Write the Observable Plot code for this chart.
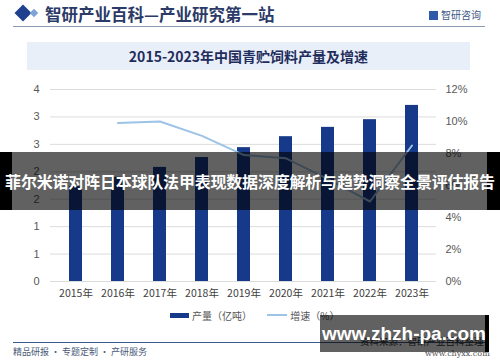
<!DOCTYPE html>
<html><head><meta charset="utf-8">
<script src="https://cdn.jsdelivr.net/npm/d3@7"></script>
<script src="https://cdn.jsdelivr.net/npm/@observablehq/plot@0.6"></script>
<style>
body{margin:0;background:#fff;}
#page{position:relative;width:500px;height:362px;overflow:hidden;background:#fff;font-family:"Noto Sans CJK SC","Noto Sans",sans-serif;}
.abs{position:absolute;}
#hdr{left:45px;top:2px;font-size:16.5px;font-weight:700;color:#2b3a67;white-space:nowrap;}
#diam1{left:17px;top:7px;width:12px;height:12px;background:#1f3f8f;transform:rotate(45deg);}
#diam2{left:31px;top:10px;width:6px;height:6px;background:#7fa3d6;transform:rotate(45deg);}
#hline{left:13px;top:26px;width:472px;height:1px;background:#8d9cb6;}
#logo{left:429px;top:7px;font-size:10px;color:#3b5687;white-space:nowrap;}
#logo i{display:inline-block;width:9px;height:9px;background:#2f5aa8;margin-right:3px;vertical-align:-1px;}
#tbox{left:27px;top:42px;width:443px;height:28px;background:#e9eff9;}
#title{left:27px;top:42px;width:443px;height:28px;line-height:28px;text-align:center;font-size:14px;font-weight:700;color:#1f2d5c;}
#chart{left:0;top:80px;}
#legend{left:170px;top:306px;font-size:10px;color:#555;white-space:nowrap;}
#legend span{display:inline-block;vertical-align:middle;}
#fline{left:13px;top:342px;width:472px;height:1px;background:#3d5a8c;}
#ftxt{left:13px;top:345px;font-size:9px;color:#4a5a78;white-space:nowrap;}
#src{left:360px;top:334px;font-size:9.5px;color:#333;white-space:nowrap;}
#web{left:425px;top:349px;font-size:8px;color:#555;font-family:"DejaVu Serif",serif;white-space:nowrap;}
#banner{left:0;top:152px;width:500px;height:58px;background:rgba(0,0,0,0.62);}
#bl{left:0;top:152px;width:12px;height:58px;background:#000;}
#br{left:487px;top:152px;width:13px;height:58px;background:#000;}
#btxt{left:-10px;top:152px;width:520px;height:58px;line-height:58px;text-align:center;color:#fff;font-size:16px;font-weight:700;white-space:nowrap;letter-spacing:-0.2px;}
#wbox{left:320px;top:315px;width:168px;height:37px;background:rgba(0,0,0,0.62);}
#wbr{left:485px;top:315px;width:4px;height:37px;background:#000;}
#wtxt{left:320px;top:315px;width:168px;height:37px;line-height:37px;text-align:center;color:#fff;font-size:19px;font-weight:700;font-family:"Liberation Sans",Arial,sans-serif;white-space:nowrap;}
</style></head><body>
<div id="page">
  <div class="abs" id="diam1"></div><div class="abs" id="diam2"></div>
  <div class="abs" id="hdr">智研产业百科—产业研究第一站</div>
  <div class="abs" id="logo"><i></i>智研咨询</div>
  <div class="abs" id="hline"></div>
  <div class="abs" id="tbox"></div>
  <div class="abs" id="title">2015-2023年中国青贮饲料产量及增速</div>
  <div class="abs" id="chart"></div>
  <div class="abs" id="legend">
    <span style="width:19px;height:5px;background:#17398a;margin-right:3px"></span><span>产量（亿吨）</span>
    <span style="width:20px;height:2px;background:#9dc3e6;margin-left:13px;margin-right:3px"></span><span>增速（%）</span>
  </div>
  <div class="abs" id="fline"></div>
  <div class="abs" id="ftxt">精品研报 · 专题定制 · 产研服务</div>
  <div class="abs" id="src">资料来源：智研产业百科整理</div>
  <div class="abs" id="web">www.chyxx.com</div>
  <div class="abs" id="banner"></div><div class="abs" id="bl"></div><div class="abs" id="br"></div>
  <div class="abs" id="btxt">菲尔米诺对阵日本球队法甲表现数据深度解析与趋势洞察全景评估报告</div>
  <div class="abs" id="wbox"></div><div class="abs" id="wbr"></div>
  <div class="abs" id="wtxt">www.zhzh-pa.com</div>
</div>
<script>
const years = ["2015年","2016年","2017年","2018年","2019年","2020年","2021年","2022年","2023年"];
const output = [1.73, 1.90, 2.08, 2.26, 2.44, 2.64, 2.81, 2.95, 3.21];
const growth = [null, 9.9, 10.0, 9.1, 7.9, 7.7, 6.4, 5.0, 8.5];
const leftTicks = [0, 0.5, 1, 1.5, 2, 2.5, 3, 3.5];
const rightTicks = [0, 2, 4, 6, 8, 10, 12];
const leftMax = 3.5, rightMax = 12;

const bars = years.map((y, i) => ({year: y, value: output[i]}));
const pts = years.map((y, i) => ({year: y, g: growth[i]})).filter(d => d.g != null);
const toLeft = g => g * leftMax / rightMax;

const chart = Plot.plot({
  width: 500, height: 230,
  marginTop: 9, marginBottom: 29, marginLeft: 50, marginRight: 64,
  style: {fontFamily: "'Liberation Sans', Arial, sans-serif", fontSize: "11px", color: "#595959", background: "transparent"},
  x: {domain: years, paddingInner: 0.7, paddingOuter: 0.35, label: null},
  y: {domain: [0, leftMax], label: null},
  marks: [
    Plot.gridY(leftTicks, {stroke: "#dcdcdc", strokeOpacity: 1}),
    Plot.barY(bars, {x: "year", y: "value", fill: "#17398a"}),
    Plot.line(pts, {x: "year", y: d => toLeft(d.g), stroke: "#9dc3e6", strokeWidth: 2}),
    Plot.axisY({ticks: leftTicks, tickSize: 0, tickPadding: 11, tickFormat: d => String(Math.round(d)), label: null}),
    Plot.axisY({anchor: "right", ticks: rightTicks.map(toLeft), tickSize: 0, tickPadding: 9, tickFormat: d => Math.round(d * rightMax / leftMax) + "%", label: null}),
    Plot.axisX({tickSize: 0, tickPadding: 8, fill: "#404040", fontFamily: "'Noto Sans CJK SC', sans-serif", fontSize: 10.5, label: null})
  ]
});
document.getElementById("chart").appendChild(chart);
</script>
</body></html>
